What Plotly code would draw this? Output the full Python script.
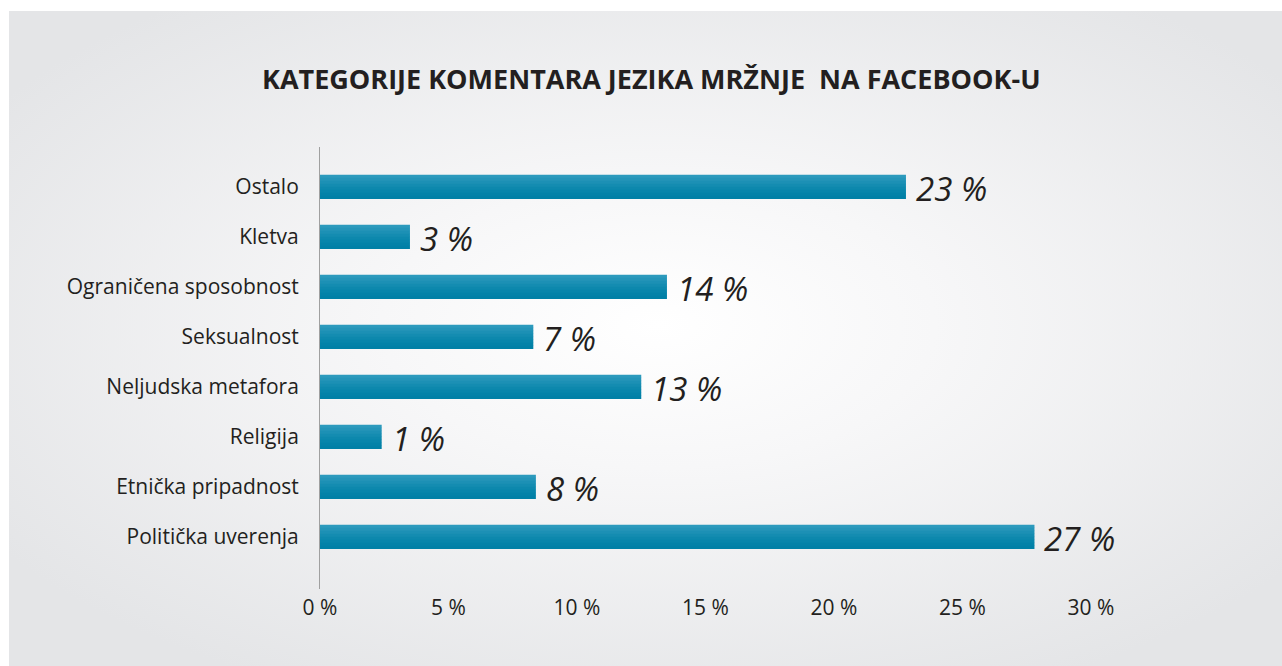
import base64
import plotly.graph_objects as go

# ---- data (bottom to top) ----
categories = ["Politička uverenja", "Etnička pripadnost", "Religija", "Neljudska metafora",
              "Seksualnost", "Ograničena sposobnost", "Kletva", "Ostalo"]
values = [27.8, 8.4, 2.4, 12.5, 8.3, 13.5, 3.5, 22.8]
value_labels = ["27 %", "8 %", "1 %", "13 %", "7 %", "14 %", "3 %", "23 %"]
tick_vals = [0, 5, 10, 15, 20, 25, 30]
tick_text = ["0 %", "5 %", "10 %", "15 %", "20 %", "25 %", "30 %"]
title = "KATEGORIJE KOMENTARA JEZIKA MRŽNJE\u00a0\u00a0NA FACEBOOK-U"

W, H = 1282, 666
L, R, T, B = 320, 1091, 147, 589
TXT = "#231f20"
FONT = "Open Sans"


def px(x):
    return (x - L) / (R - L)


def py(y):
    return (B - y) / (B - T)


fig = go.Figure()

# gradient bars via stacked strips (top light -> bottom dark)
strip_colors = ["#2c9abd", "#2495b9", "#1c90b5", "#148cb1", "#0d88ad", "#0785ab", "#0382a8", "#0080a6"]
n = len(strip_colors)
bar_h = 0.48
sw = bar_h / n
for i, c in enumerate(strip_colors):
    off = bar_h / 2 - (i + 1) * sw
    fig.add_trace(go.Bar(
        y=categories, x=values, orientation="h",
        marker=dict(color=c, line=dict(width=0)),
        width=sw + 0.004, offset=off,
        hoverinfo="skip", showlegend=False,
    ))

for cat, v, lab in zip(categories, values, value_labels):
    fig.add_annotation(x=v, y=cat, xref="x", yref="y", text=lab, showarrow=False,
                       xanchor="left", xshift=8, yshift=-1,
                       font=dict(family=FONT, size=33, color=TXT, style="italic"))

fig.add_annotation(x=px(651), y=py(78), xref="paper", yref="paper", text=title,
                   showarrow=False, xanchor="center", yanchor="middle",
                   font=dict(family=FONT, size=27, color=TXT, weight="bold"))

svg = ("<svg xmlns='http://www.w3.org/2000/svg' width='1273' height='655' preserveAspectRatio='none'>"
       "<defs><radialGradient id='g' cx='0.51' cy='0.48' r='0.62'>"
       "<stop offset='0' stop-color='#ffffff'/><stop offset='0.35' stop-color='#f7f7f8'/>"
       "<stop offset='1' stop-color='#e4e5e7'/></radialGradient></defs>"
       "<rect width='1273' height='655' fill='url(#g)'/></svg>")
src = "data:image/svg+xml;base64," + base64.b64encode(svg.encode()).decode()
fig.add_layout_image(source=src, xref="paper", yref="paper", x=px(9), y=py(11),
                     sizex=(W - 9) / (R - L), sizey=(H - 11) / (B - T), sizing="stretch",
                     xanchor="left", yanchor="top", layer="below")

fig.update_layout(
    width=W, height=H, barmode="overlay",
    margin=dict(l=L, r=W - R, t=T, b=H - B),
    paper_bgcolor="#ffffff", plot_bgcolor="rgba(0,0,0,0)",
    xaxis=dict(range=[0, 30], tickvals=tick_vals, ticktext=tick_text, showgrid=False,
               zeroline=False, showline=False, ticks="", ticklabelstandoff=4,
               tickfont=dict(family=FONT, size=21, color=TXT), fixedrange=True),
    yaxis=dict(type="category", categoryorder="array", categoryarray=categories,
               range=[-1.04, 7.8], showgrid=False, zeroline=False, showline=True,
               linecolor="#a0a0a0", linewidth=1, ticks="", ticklabelstandoff=16,
               tickfont=dict(family=FONT, size=21, color=TXT), fixedrange=True),
)

fig.write_html("out.html", config={"displayModeBar": False},
               post_script="document.body.style.margin='0';document.body.style.overflow='hidden';")
